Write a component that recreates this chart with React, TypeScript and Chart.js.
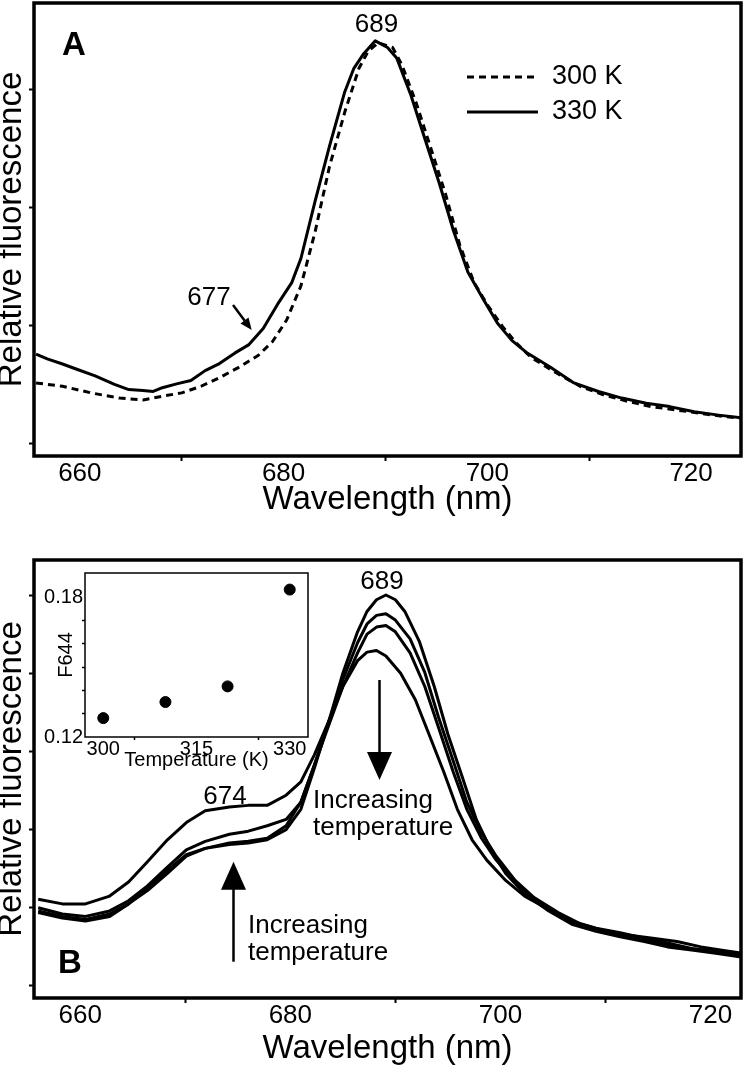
import React, { useEffect, useRef } from "react";
import { Chart, registerables } from "chart.js";

Chart.register(...registerables);

const FONT = "'Liberation Sans', Arial, Helvetica, sans-serif";

// ---------- axis ticks ----------
const xTickValues = [660, 670, 680, 690, 700, 710, 720];
const xTickLabels = [660, 680, 700, 720];
const yTicksA = [0, 0.25, 0.5, 0.75];
const yTicksB = [0, 0.1, 0.2, 0.3, 0.4, 0.5];

// ---------- panel A ----------
const seriesNamesA = ["300 K", "330 K"];
const wavelengthA300 = [655.7, 658.3, 661.1, 663.9, 666.2, 668.1, 670.0, 671.9, 673.7, 675.6, 677.5, 678.9, 680.3, 681.7, 683.1, 684.5, 686.0, 687.4, 688.3, 689.3, 690.7, 691.6, 693.0, 694.5, 695.9, 697.3, 698.7, 700.1, 701.5, 702.9, 704.3, 706.7, 709.1, 711.4, 713.8, 716.1, 718.5, 720.8, 723.2, 725.0];
const fluorA300 = [0.129, 0.122, 0.108, 0.097, 0.093, 0.101, 0.108, 0.122, 0.140, 0.162, 0.187, 0.216, 0.262, 0.334, 0.449, 0.586, 0.701, 0.794, 0.830, 0.848, 0.838, 0.802, 0.722, 0.622, 0.528, 0.420, 0.341, 0.291, 0.248, 0.212, 0.183, 0.151, 0.122, 0.104, 0.090, 0.079, 0.072, 0.065, 0.058, 0.054];
const wavelengthA330 = [655.7, 656.8, 658.3, 659.7, 661.5, 663.4, 664.8, 666.2, 667.2, 668.1, 669.5, 670.9, 672.3, 673.7, 675.2, 676.6, 678.0, 679.4, 680.8, 681.7, 683.1, 684.5, 686.0, 686.9, 687.8, 689.0, 690.2, 691.1, 692.5, 693.9, 695.3, 696.7, 698.1, 699.6, 701.0, 702.4, 703.8, 706.2, 708.5, 710.9, 713.2, 715.6, 717.9, 720.3, 722.7, 725.0];
const fluorA330 = [0.190, 0.180, 0.169, 0.158, 0.144, 0.126, 0.115, 0.113, 0.111, 0.119, 0.127, 0.134, 0.155, 0.170, 0.192, 0.210, 0.244, 0.295, 0.341, 0.392, 0.514, 0.629, 0.744, 0.794, 0.823, 0.852, 0.838, 0.816, 0.737, 0.643, 0.550, 0.449, 0.363, 0.306, 0.255, 0.219, 0.194, 0.162, 0.129, 0.111, 0.097, 0.086, 0.079, 0.068, 0.061, 0.055];

// ---------- panel B ----------
const wavelengthB300 = [656.0, 658.3, 660.5, 662.8, 664.6, 666.4, 668.3, 670.1, 671.9, 674.2, 676.0, 677.8, 679.6, 681.0, 682.3, 683.7, 685.0, 686.4, 687.3, 688.2, 689.1, 690.0, 690.9, 692.3, 693.7, 695.0, 696.4, 697.7, 699.1, 700.5, 702.3, 704.6, 706.8, 709.1, 711.4, 713.7, 715.9, 718.2, 720.5, 723.0];
const fluorB300 = [0.096, 0.089, 0.085, 0.092, 0.105, 0.122, 0.144, 0.166, 0.176, 0.181, 0.183, 0.187, 0.200, 0.226, 0.279, 0.340, 0.400, 0.453, 0.479, 0.494, 0.500, 0.494, 0.479, 0.440, 0.383, 0.322, 0.266, 0.213, 0.174, 0.144, 0.118, 0.096, 0.079, 0.070, 0.063, 0.057, 0.050, 0.046, 0.042, 0.037];
const wavelengthB310 = [656.0, 658.3, 660.5, 662.8, 664.6, 666.4, 668.3, 670.1, 671.9, 674.2, 676.0, 677.8, 679.6, 681.0, 682.3, 683.7, 685.0, 686.4, 687.3, 688.2, 689.1, 690.0, 691.4, 692.8, 694.1, 695.5, 696.8, 698.2, 699.6, 701.4, 703.2, 705.5, 707.7, 710.0, 712.3, 714.5, 716.8, 719.1, 721.4, 723.0];
const fluorB310 = [0.100, 0.092, 0.089, 0.096, 0.109, 0.128, 0.152, 0.174, 0.185, 0.194, 0.198, 0.205, 0.213, 0.235, 0.283, 0.340, 0.392, 0.439, 0.463, 0.474, 0.476, 0.468, 0.444, 0.401, 0.344, 0.288, 0.235, 0.196, 0.166, 0.135, 0.113, 0.094, 0.079, 0.070, 0.063, 0.057, 0.050, 0.046, 0.042, 0.039];
const wavelengthB320 = [656.0, 658.3, 660.5, 662.8, 664.6, 666.4, 668.3, 670.1, 671.9, 674.2, 676.0, 677.8, 679.6, 681.0, 682.3, 683.7, 685.0, 686.4, 687.3, 688.2, 689.1, 690.0, 691.4, 692.8, 694.1, 695.5, 696.8, 698.2, 699.6, 701.4, 703.2, 705.5, 707.7, 710.0, 712.3, 714.5, 716.8, 719.1, 721.4, 723.0];
const fluorB320 = [0.094, 0.087, 0.083, 0.089, 0.105, 0.126, 0.148, 0.168, 0.176, 0.183, 0.185, 0.189, 0.205, 0.235, 0.283, 0.335, 0.383, 0.426, 0.450, 0.459, 0.461, 0.453, 0.426, 0.383, 0.331, 0.274, 0.226, 0.189, 0.161, 0.133, 0.111, 0.091, 0.076, 0.070, 0.065, 0.061, 0.057, 0.050, 0.045, 0.042];
const wavelengthB330 = [656.0, 658.3, 660.5, 662.8, 664.6, 666.4, 668.3, 670.1, 671.9, 674.2, 676.0, 677.8, 679.6, 681.0, 682.3, 683.7, 685.0, 686.4, 687.3, 688.2, 689.1, 690.5, 691.9, 693.2, 694.6, 695.9, 697.3, 698.7, 700.5, 702.3, 704.6, 706.8, 709.1, 711.4, 713.7, 715.9, 718.2, 720.5, 723.0];
const fluorB330 = [0.111, 0.105, 0.105, 0.115, 0.133, 0.159, 0.187, 0.209, 0.224, 0.229, 0.231, 0.231, 0.244, 0.261, 0.296, 0.340, 0.383, 0.416, 0.427, 0.429, 0.422, 0.400, 0.366, 0.322, 0.274, 0.226, 0.187, 0.161, 0.135, 0.115, 0.098, 0.083, 0.074, 0.068, 0.061, 0.055, 0.048, 0.044, 0.039];

// ---------- inset ----------
const insetTemperature = [300, 310, 320, 330];
const insetF644 = [0.1281, 0.135, 0.1417, 0.1832];
const insetXTicks = [300, 305, 315, 325, 330];
const insetXLabels = [300, 315, 330];
const insetYTicks = [0.12, 0.13, 0.14, 0.15, 0.16, 0.17, 0.18];
const insetYLabels = [0.12, 0.18];

// ---------- text ----------
const xTitle = "Wavelength (nm)";
const yTitle = "Relative fluorescence";
const peakLabel = "689";
const shoulderLabelA = "677";
const shoulderLabelB = "674";
const arrowText1 = "Increasing";
const arrowText2 = "temperature";

const xy = (xs: number[], ys: number[]) => xs.map((x, i) => ({ x, y: ys[i] }));

const lineDs = (label: string, xs: number[], ys: number[], dash: number[] = []) => ({
  label,
  data: xy(xs, ys),
  borderColor: "#000",
  backgroundColor: "#000",
  borderWidth: 3,
  borderDash: dash,
  pointRadius: 0,
  tension: 0,
  fill: false,
  borderJoinStyle: "round" as const,
});

const boxPlugin = (lw: number, white = false) => ({
  id: "box",
  beforeDraw(chart: any) {
    if (!white) return;
    const { ctx, chartArea: a } = chart;
    ctx.save();
    ctx.fillStyle = "#fff";
    ctx.fillRect(a.left, a.top, a.right - a.left, a.bottom - a.top);
    ctx.restore();
  },
  afterDraw(chart: any) {
    const { ctx, chartArea: a } = chart;
    ctx.save();
    ctx.lineWidth = lw;
    ctx.strokeStyle = "#000";
    ctx.strokeRect(a.left, a.top, a.right - a.left, a.bottom - a.top);
    ctx.restore();
  },
});

function spectrumScales(xMin: number, xMax: number, yMin: number, yMax: number, yTicks: number[], axisHeight: number, titlePad: number) {
  return {
    x: {
      type: "linear",
      min: xMin,
      max: xMax,
      afterBuildTicks: (s: any) => {
        s.ticks = xTickValues.map((v) => ({ value: v }));
      },
      afterFit: (s: any) => {
        s.height = axisHeight;
      },
      ticks: {
        autoSkip: false,
        maxRotation: 0,
        color: "#000",
        padding: 0,
        font: { family: FONT, size: 26, lineHeight: 1 },
        callback: (v: any) => (xTickLabels.includes(v) ? String(v) : ""),
      },
      grid: {
        drawOnChartArea: false,
        drawTicks: true,
        tickLength: 5,
        tickWidth: 2,
        tickColor: (c: any) => (c.tick && xTickLabels.includes(c.tick.value) ? "rgba(0,0,0,0)" : "#000"),
      },
      border: { display: false },
      title: {
        display: true,
        text: xTitle,
        color: "#000",
        font: { family: FONT, size: 33, lineHeight: 1 },
        padding: { top: 0, bottom: titlePad },
      },
    },
    y: {
      type: "linear",
      min: yMin,
      max: yMax,
      afterBuildTicks: (s: any) => {
        s.ticks = yTicks.map((v) => ({ value: v }));
      },
      afterFit: (s: any) => {
        s.width = 34;
      },
      ticks: { display: false },
      grid: { drawOnChartArea: false, drawTicks: true, tickLength: 5, tickWidth: 2, tickColor: "#000" },
      border: { display: false },
      title: {
        display: true,
        text: yTitle,
        color: "#000",
        font: { family: FONT, size: 33, lineHeight: 1 },
        padding: { top: -4.5, bottom: 0 },
      },
    },
  };
}

function arrowLine(ctx: CanvasRenderingContext2D, x1: number, y1: number, x2: number, y2: number, headLen: number, halfW: number, lw: number) {
  const dx = x2 - x1;
  const dy = y2 - y1;
  const len = Math.hypot(dx, dy);
  const ux = dx / len;
  const uy = dy / len;
  const bx = x2 - ux * headLen;
  const by = y2 - uy * headLen;
  ctx.lineWidth = lw;
  ctx.beginPath();
  ctx.moveTo(x1, y1);
  ctx.lineTo(bx + ux * 1, by + uy * 1);
  ctx.stroke();
  ctx.beginPath();
  ctx.moveTo(x2, y2);
  ctx.lineTo(bx - uy * halfW, by + ux * halfW);
  ctx.lineTo(bx + uy * halfW, by - ux * halfW);
  ctx.closePath();
  ctx.fill();
}

const annotA = {
  id: "annotA",
  afterDraw(chart: any) {
    const ctx: CanvasRenderingContext2D = chart.ctx;
    ctx.save();
    ctx.fillStyle = "#000";
    ctx.strokeStyle = "#000";
    ctx.font = `bold 33px ${FONT}`;
    ctx.textAlign = "left";
    ctx.textBaseline = "alphabetic";
    ctx.fillText("A", 62, 55);

    ctx.font = `26px ${FONT}`;
    ctx.textAlign = "center";
    ctx.textBaseline = "middle";
    ctx.fillText(peakLabel, 376.5, 25);
    ctx.fillText(shoulderLabelA, 209, 298);

    // legend
    ctx.lineWidth = 3;
    ctx.setLineDash([7, 5]);
    ctx.beginPath();
    ctx.moveTo(467, 77);
    ctx.lineTo(538, 77);
    ctx.stroke();
    ctx.setLineDash([]);
    ctx.beginPath();
    ctx.moveTo(467, 112);
    ctx.lineTo(538, 112);
    ctx.stroke();
    ctx.font = `27px ${FONT}`;
    ctx.textAlign = "left";
    ctx.fillText(seriesNamesA[0], 552, 77);
    ctx.fillText(seriesNamesA[1], 552, 112);

    arrowLine(ctx, 233, 305, 251.7, 330, 12, 5, 2.5);
    ctx.restore();
  },
};

const annotB = {
  id: "annotB",
  afterDraw(chart: any) {
    const ctx: CanvasRenderingContext2D = chart.ctx;
    ctx.save();
    ctx.fillStyle = "#000";
    ctx.strokeStyle = "#000";
    ctx.font = `bold 33px ${FONT}`;
    ctx.textAlign = "left";
    ctx.textBaseline = "alphabetic";
    ctx.fillText("B", 58, 443);

    ctx.font = `26px ${FONT}`;
    ctx.textAlign = "center";
    ctx.textBaseline = "middle";
    ctx.fillText(peakLabel, 382, 52);
    ctx.fillText(shoulderLabelB, 225, 266.5);

    // down arrow
    arrowLine(ctx, 379.5, 150, 379.5, 250, 28, 12.5, 2.5);
    // up arrow
    arrowLine(ctx, 233.5, 431.7, 233.5, 331.7, 28, 12.5, 2.5);

    ctx.font = `26px ${FONT}`;
    ctx.textAlign = "left";
    ctx.textBaseline = "alphabetic";
    ctx.fillText(arrowText1, 313, 278);
    ctx.fillText(arrowText2, 313, 304.5);
    ctx.fillText(arrowText1, 248, 403);
    ctx.fillText(arrowText2, 248, 429.5);
    ctx.restore();
  },
};

export default function App() {
  const refA = useRef<HTMLCanvasElement>(null);
  const refB = useRef<HTMLCanvasElement>(null);
  const refI = useRef<HTMLCanvasElement>(null);

  useEffect(() => {
    const chartA = new Chart(refA.current as HTMLCanvasElement, {
      type: "line",
      data: {
        datasets: [
          lineDs(seriesNamesA[0], wavelengthA300, fluorA300, [7, 5]),
          lineDs(seriesNamesA[1], wavelengthA330, fluorA330),
        ],
      },
      options: {
        animation: false,
        responsive: false,
        devicePixelRatio: 1,
        layout: { padding: { top: 3, right: 4, left: 0, bottom: 0 } },
        plugins: { legend: { display: false }, tooltip: { enabled: false } },
        scales: spectrumScales(655.5, 724.9, -0.0254, 0.932, yTicksA, 74, 13.5) as any,
      },
      plugins: [boxPlugin(3.5), annotA],
    } as any);

    const chartB = new Chart(refB.current as HTMLCanvasElement, {
      type: "line",
      data: {
        datasets: [
          lineDs("300 K", wavelengthB300, fluorB300),
          lineDs("310 K", wavelengthB310, fluorB310),
          lineDs("320 K", wavelengthB320, fluorB320),
          lineDs("330 K", wavelengthB330, fluorB330),
        ],
      },
      options: {
        animation: false,
        responsive: false,
        devicePixelRatio: 1,
        layout: { padding: { top: 30, right: 4, left: 0, bottom: 0 } },
        plugins: { legend: { display: false }, tooltip: { enabled: false } },
        scales: spectrumScales(655.6, 722.9, -0.01535, 0.5448, yTicksB, 69, 2) as any,
      },
      plugins: [boxPlugin(3.5), annotB],
    } as any);

    const chartI = new Chart(refI.current as HTMLCanvasElement, {
      type: "scatter",
      data: {
        datasets: [
          {
            label: "F644",
            data: xy(insetTemperature, insetF644),
            pointRadius: 5.5,
            pointBackgroundColor: "#000",
            pointBorderColor: "#000",
            showLine: false,
          },
        ],
      },
      options: {
        animation: false,
        responsive: false,
        devicePixelRatio: 1,
        layout: { padding: { top: 13, right: 22, left: 0, bottom: 0 } },
        plugins: { legend: { display: false }, tooltip: { enabled: false } },
        scales: {
          x: {
            type: "linear",
            min: 297.06,
            max: 332.94,
            afterBuildTicks: (s: any) => {
              s.ticks = insetXTicks.map((v) => ({ value: v }));
            },
            afterFit: (s: any) => {
              s.height = 48;
            },
            ticks: {
              autoSkip: false,
              maxRotation: 0,
              color: "#000",
              padding: -1,
              font: { family: FONT, size: 20, lineHeight: 1 },
              callback: (v: any) => (insetXLabels.includes(v) ? String(v) : ""),
            },
            grid: {
              drawOnChartArea: false,
              tickLength: 3,
              tickWidth: 1.5,
              tickColor: (c: any) => (c.tick && insetXLabels.includes(c.tick.value) ? "rgba(0,0,0,0)" : "#000"),
            },
            border: { display: false },
            title: {
              display: true,
              text: "Temperature (K)",
              color: "#000",
              font: { family: FONT, size: 20, lineHeight: 1 },
              padding: { top: 0, bottom: 15 },
            },
          },
          y: {
            type: "linear",
            min: 0.12,
            max: 0.1903,
            afterBuildTicks: (s: any) => {
              s.ticks = insetYTicks.map((v) => ({ value: v }));
            },
            afterFit: (s: any) => {
              s.width = 45;
            },
            ticks: {
              color: "#000",
              padding: -1,
              font: { family: FONT, size: 20, lineHeight: 1 },
              callback: (v: any) => (insetYLabels.includes(v) ? v.toFixed(2) : ""),
            },
            grid: {
              drawOnChartArea: false,
              tickLength: 3,
              tickWidth: 1.5,
              tickColor: (c: any) => (c.tick && insetYLabels.includes(c.tick.value) ? "rgba(0,0,0,0)" : "#000"),
            },
            border: { display: false },
            title: {
              display: true,
              text: "F644",
              color: "#000",
              font: { family: FONT, size: 20, lineHeight: 1 },
              padding: { top: 16, bottom: 0 },
            },
          },
        },
      },
      plugins: [boxPlugin(1.5, true)],
    } as any);

    return () => {
      chartA.destroy();
      chartB.destroy();
      chartI.destroy();
    };
  }, []);

  return (
    <div style={{ position: "absolute", left: 0, top: 0, width: 745, height: 1067, background: "#fff" }}>
      <canvas ref={refA} width={745} height={530} style={{ position: "absolute", left: 0, top: 0, width: 745, height: 530 }} />
      <canvas ref={refB} width={745} height={537} style={{ position: "absolute", left: 0, top: 530, width: 745, height: 537 }} />
      <canvas ref={refI} width={290} height={225} style={{ position: "absolute", left: 40, top: 560, width: 290, height: 225 }} />
    </div>
  );
}
